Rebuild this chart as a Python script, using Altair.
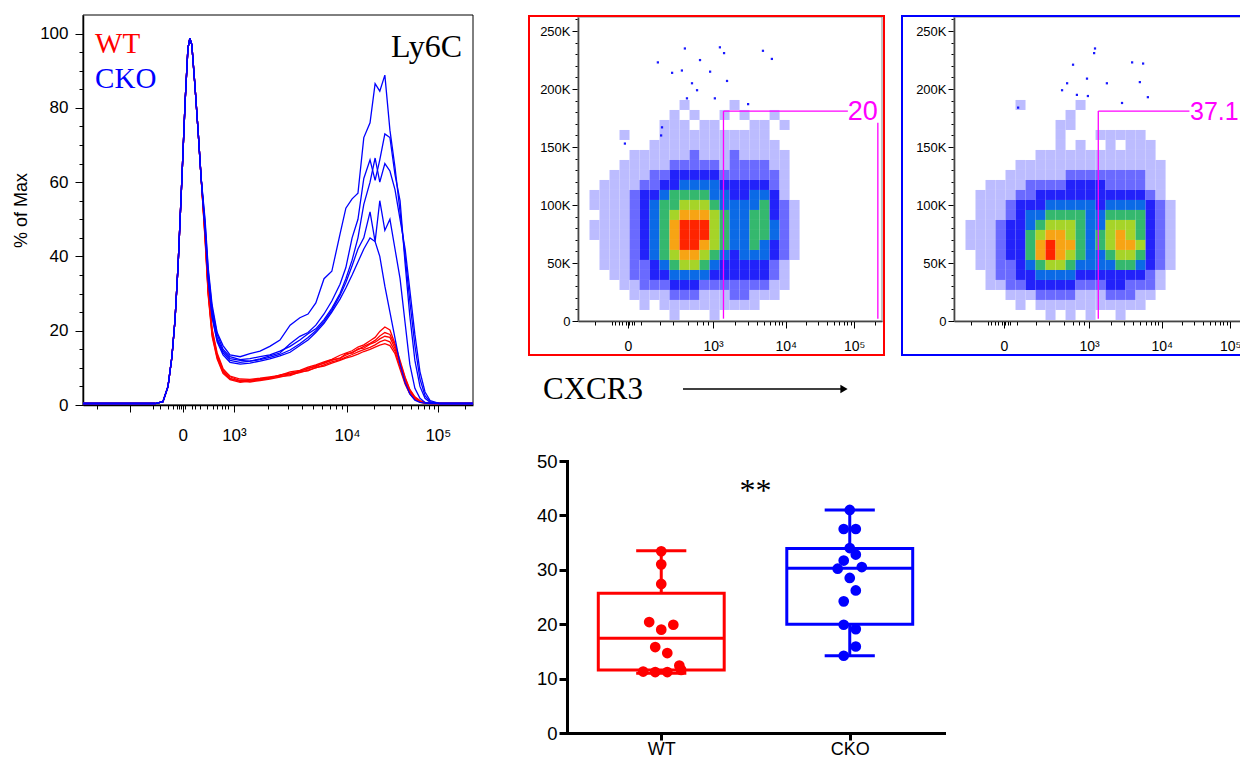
import altair as alt
import pandas as pd
import numpy as np

# canvas kept inside the 1248x770 window (8px page margin on each side)
W, H = 1232, 750
SANS = "Liberation Sans"
SERIF = "Liberation Serif"
RED, BLUE, MAG = "#ff0000", "#0000ff", "#ff00ff"

# ---------------- Histogram panel (Ly6C, display channel 0-1000) ----------------
hist_left_ch = [0, 185, 205, 218, 228, 236, 244, 254, 262, 269, 274, 279, 287, 295, 303]
hist_left_pct = [0.4, 0.4, 0.9, 5, 13, 23, 38, 62, 82, 96, 98.7, 97, 86, 74, 61]
hist_ch = [313, 321, 331, 344, 359, 377, 403, 428, 454, 479, 505, 531, 556, 577, 597,
           618, 638, 659, 674, 690, 705, 720, 736, 749, 761, 774, 787, 800, 813, 826,
           838, 851, 864, 877, 890, 915, 1000]
wt_1 = [46, 31, 20, 13.5, 9.5, 7.8, 7.0, 6.9, 7.2, 7.6, 8.0, 8.9, 9.3, 10.2, 10.8, 11.6, 12.3, 13.4, 14.0, 14.6,
        15.6, 16.2, 17.3, 18.2, 19.8, 21.0, 20.2, 16.5, 12.0, 7.5, 4.2, 2.2, 1.2, 0.7, 0.5, 0.4, 0.4]
wt_2 = [46.5, 31.5, 20.5, 14, 9.8, 7.6, 6.6, 6.5, 6.9, 7.4, 7.9, 8.4, 9.2, 9.7, 10.6, 11.2, 12.0, 12.7, 13.4, 14.2,
        14.9, 15.8, 16.6, 17.4, 18.6, 19.5, 19.0, 16.0, 11.5, 7.2, 4.0, 2.0, 1.0, 0.6, 0.5, 0.4, 0.4]
wt_3 = [45.5, 30.5, 19.5, 13.2, 9.2, 7.2, 6.3, 6.7, 7.0, 7.2, 8.1, 8.6, 9.0, 9.9, 10.3, 11.4, 12.2, 12.5, 13.8, 14.0,
        15.1, 15.3, 16.4, 16.9, 17.8, 18.5, 18.2, 15.2, 11.0, 6.6, 3.6, 1.8, 0.9, 0.6, 0.5, 0.4, 0.4]
wt_4 = [45, 30, 19, 12.8, 8.8, 7.0, 6.5, 6.2, 6.6, 7.0, 7.5, 8.2, 8.7, 9.4, 10.0, 10.8, 11.6, 12.2, 12.9, 13.6,
        14.3, 14.9, 15.5, 16.2, 17.0, 17.5, 17.0, 14.5, 10.2, 6.0, 3.2, 1.6, 0.8, 0.5, 0.4, 0.4, 0.4]
wt_5 = [44.5, 29.5, 18.5, 12.4, 8.5, 6.8, 6.1, 6.4, 6.8, 7.3, 7.7, 7.9, 8.9, 9.2, 10.1, 10.5, 11.3, 12.0, 12.6, 13.1,
        13.7, 14.4, 15.0, 15.6, 16.1, 16.5, 16.0, 13.8, 9.6, 5.6, 3.0, 1.5, 0.8, 0.5, 0.4, 0.4, 0.4]
cko_1 = [50, 37, 27, 19.5, 16, 13.5, 13, 13.8, 14.5, 15.8, 17.5, 21.5, 23.5, 24.5, 27.5, 34, 36, 46, 53, 55.5,
         57, 72, 76, 86.5, 84.5, 88.8, 74, 64, 52, 40, 28, 16, 7, 2.5, 0.9, 0.4, 0.4]
cko_2 = [48, 35, 25, 18, 14.5, 12.5, 12, 11.8, 12.4, 13.2, 14, 16.5, 18.5, 19.5, 21.5, 24.5, 28, 32.5, 37, 45,
         50, 61, 66, 60.5, 66, 73, 72, 62, 55, 38, 24, 12, 5, 1.8, 0.7, 0.4, 0.4]
cko_3 = [49, 36, 26, 19, 15, 13, 12.2, 12.5, 13, 13.5, 14.5, 15.8, 17.5, 19.2, 20.5, 23, 26, 30, 34, 39,
         45, 54, 60, 66.5, 60, 65, 63, 58, 50, 42, 31, 19, 9, 3.5, 1.2, 0.4, 0.4]
cko_4 = [47.5, 34, 24, 17.5, 14, 12, 11.5, 11.8, 12.2, 12.8, 13.6, 14.8, 16.5, 18.2, 20, 22.5, 25.5, 29.5, 33, 37.5,
         42, 45, 52, 44, 55, 47, 50, 42, 34, 22, 11, 4.5, 1.8, 0.7, 0.5, 0.4, 0.4]
cko_5 = [47, 33.5, 23.5, 17, 13.5, 11.5, 11, 11.3, 11.8, 12.4, 13.2, 14.2, 16, 17.5, 19.5, 22, 25, 28.5, 31.5, 35,
         38.5, 42, 45, 44, 40, 32, 25, 18, 11, 6, 3, 1.3, 0.7, 0.5, 0.4, 0.4, 0.4]

hist_major_ch = [121, 256, 387, 677, 910]
hist_major_lbl = ["", "0", "10³", "10⁴", "10⁵"]
hist_low_minor_ch = [36, 179, 197, 218, 231, 241, 246, 251, 262, 279, 287, 300, 318, 333, 344, 356, 364, 372]
hist_decades = [387, 677, 910, 1143]

# ---------------- Dot plots (CXCR3 channel 0-1024 vs SSC) ----------------
dot_major_ch = [168, 455, 700, 930]
dot_major_lbl = ["0", "10³", "10⁴", "10⁵"]
dot_low_minor_ch = [57, 115, 125, 138, 148, 162, 172, 182, 189, 212, 276, 320, 371, 401, 421, 438]
dot_decades = [455, 700, 930, 1159]

# density levels (0 empty .. 8 red), 22 x 22 bins, rows from top (high SSC) to bottom
wt_density = [
    "0000000000100001000000",
    "0000000001010010100100",
    "0000000011101100011010",
    "0000100011111111111000",
    "0000000111111111111100",
    "0000011111121112111110",
    "0000111112222212222110",
    "0001111223333322222210",
    "0011112233444433333210",
    "0111123345555443344310",
    "0111123455666544445321",
    "0011123456777654455321",
    "0111123457888654455421",
    "0111123457888654455421",
    "0011123457887654454321",
    "0011123456776543444321",
    "0011122345665433333210",
    "0001122334444333333210",
    "0000112223332222222110",
    "0000011112221112211100",
    "0000001011111111110000",
    "0000000001000100000000",
]
cko_density = [
    "0000001000001000000000",
    "0000000000010000000000",
    "0000000000110000000000",
    "0000000000100011111000",
    "0000000000101001011100",
    "0000000011111111111100",
    "0000001111111111111110",
    "0000011111122222222110",
    "0001111222233332222110",
    "0011112233333333333210",
    "0011123334444434444321",
    "0011123445555445555321",
    "0111233456665446665321",
    "0111233567765456765321",
    "0111233578775456776321",
    "0011233578765445665321",
    "0011223456654444554321",
    "0001223344443333333210",
    "0001122333332223322210",
    "0000011122221112221100",
    "0000001011111111111000",
    "0000000001010100100000",
]
bin_x0, bin_dx = 5, 33.7          # channel units
bin_y0, bin_dy = 190600, 8623     # SSC units (top edge, height)

wt_out_x = [360, 411, 269, 445, 317, 350, 478, 492, 623, 653, 384, 401, 502, 367, 461, 573, 158, 283, 280]
wt_out_y = [235e3, 225e3, 223e3, 215e3, 214e3, 216e3, 236e3, 231e3, 233e3, 226e3, 205e3, 199e3, 207e3,
            192e3, 192e3, 187e3, 153e3, 167e3, 160e3]
cko_out_x = [475, 472, 401, 600, 637, 364, 448, 381, 515, 626, 414, 451, 566, 216, 653]
cko_out_y = [235e3, 231e3, 221e3, 223e3, 222e3, 199e3, 209e3, 205e3, 205e3, 206e3, 195e3, 194e3, 188e3,
             184e3, 193e3]

wt_gate = {"x": [490, 490, 1010], "x2": [490, 909, 1010], "y": [2000, 181000, 2000], "y2": [181000, 181000, 171000]}
cko_gate = {"x": [486, 486], "x2": [486, 793], "y": [2000, 181000], "y2": [181000, 181000]}
gate_labels = ["20", "37.1"]
gate_label_x = [1010, 795]
gate_label_y = [180000, 180000]
gate_label_size = [27, 25]

# ---------------- Box plot (% CXCR3+) ----------------
groups = ["WT", "CKO"]
group_pos = [1, 2]
box_min = [11.0, 14.2]
box_q1 = [11.6, 20.0]
box_med = [17.4, 30.3]
box_q3 = [25.7, 33.9]
box_max = [33.5, 41.0]
wt_vals = [33.4, 31.0, 27.4, 20.4, 19.9, 19.0, 15.8, 14.7, 12.4, 11.6, 11.3, 11.2, 11.2]
wt_slot = [0, 0, 0, -2, 2, 0, -1, 1, 3, 3.3, -3, -1, 1]
cko_vals = [41.0, 37.5, 37.5, 34.0, 32.8, 31.7, 30.2, 30.5, 28.5, 26.2, 24.2, 19.9, 19.1, 15.9, 14.2]
cko_slot = [0, -1, 1, 0, 1, -1, -2, 2, 0, 1, -1, -1, 1, 1, -1]

# ======================= helpers =======================
def log_minor(decades, hi):
    out = []
    for a, b in zip(decades[:-1], decades[1:]):
        for m in range(2, 10):
            v = a + np.log10(m) * (b - a)
            if v < hi:
                out.append(round(float(v), 1))
    return out


def label_expr(vals, lbls):
    e = "''"
    for v, l in reversed(list(zip(vals, lbls))):
        e = f"datum.value == {v} ? '{l}' : {e}"
    return e


def tick_cond(test, big, small):
    return {"condition": {"test": test, "value": big}, "value": small}


def blank():
    return alt.Chart(pd.DataFrame({"k": [0]}))


NOAX = None

# scales (pixel ranges inside the canvas)
hx = alt.Scale(domain=[0, 1000], range=[75, 465], nice=False, zero=False)
hy = alt.Scale(domain=[0, 105], range=[397, 7], nice=False, zero=False)
d1x = alt.Scale(domain=[0, 1024], range=[570, 874], nice=False, zero=False)
d2x = alt.Scale(domain=[0, 1024], range=[946, 1250], nice=False, zero=False)
dy = alt.Scale(domain=[0, 262144], range=[313, 9], nice=False, zero=False)
bx = alt.Scale(domain=[0.5, 2.5], range=[559, 936], nice=False, zero=False)
by = alt.Scale(domain=[0, 50], range=[725, 453], nice=False, zero=False)
grp_scale = alt.Scale(domain=groups, range=[RED, BLUE])

# ======================= histogram =======================
rows = []
for grp, curves in (("WT", [wt_1, wt_2, wt_3, wt_4, wt_5]), ("CKO", [cko_1, cko_2, cko_3, cko_4, cko_5])):
    for i, c in enumerate(curves):
        assert len(c) == len(hist_ch)
        for x, y in zip(hist_left_ch + hist_ch, hist_left_pct + c):
            rows.append({"grp": grp, "curve": f"{grp}{i}", "ch": x, "pct": y})
hist_df = pd.DataFrame(rows)

hist_minor = hist_low_minor_ch + log_minor(hist_decades, 1000)
hist_xaxis = alt.Axis(
    orient="bottom", offset=397 - H, values=hist_major_ch + hist_minor,
    labelExpr=label_expr(hist_major_ch, hist_major_lbl),
    tickSize=tick_cond(f"indexof({hist_major_ch}, datum.value) >= 0", 7, 4),
    labelFontSize=17, labelPadding=15, labelOverlap=False, labelFlush=False,
    domainWidth=1.5, tickWidth=1, title=None, grid=False)
hist_yaxis = alt.Axis(
    orient="left", offset=-75, values=list(range(0, 101, 5)),
    labelExpr="datum.value % 20 == 0 ? '' + datum.value : ''",
    tickSize=tick_cond("datum.value % 20 == 0", 8, 4),
    labelFontSize=17, labelPadding=7, labelOverlap=False, labelFlush=False,
    domainWidth=1.5, tickWidth=1, grid=False,
    title="% of Max", titleFontSize=18, titleFontWeight="normal", titleX=-62, titleBaseline="middle")

hist_frame = alt.Chart(pd.DataFrame({"x": [0], "x2": [1000], "y": [0], "y2": [105]})).mark_rect(
    fill="transparent", stroke="black", strokeWidth=1).encode(
    x=alt.X("x:Q", scale=hx, axis=hist_xaxis), x2="x2:Q",
    y=alt.Y("y:Q", scale=hy, axis=hist_yaxis), y2="y2:Q")


def hist_layer(grp, color):
    return alt.Chart(hist_df[hist_df.grp == grp]).mark_line(strokeWidth=1.3, color=color).encode(
        x=alt.X("ch:Q", scale=hx, axis=NOAX), y=alt.Y("pct:Q", scale=hy, axis=NOAX), detail="curve:N")


hist_wt = hist_layer("WT", RED)
hist_cko = hist_layer("CKO", BLUE)

legend_df = pd.DataFrame({"t": groups, "ch": [31, 31], "pct": [94.8, 85.3]})
hist_legend = alt.Chart(legend_df).mark_text(font=SERIF, fontSize=29, align="left", baseline="alphabetic").encode(
    x=alt.X("ch:Q", scale=hx, axis=NOAX), y=alt.Y("pct:Q", scale=hy, axis=NOAX), text="t:N",
    color=alt.Color("t:N", scale=grp_scale, legend=None))
hist_marker = alt.Chart(pd.DataFrame({"t": ["Ly6C"], "ch": [972], "pct": [93.7]})).mark_text(
    font=SERIF, fontSize=32, align="right", baseline="alphabetic", color="black").encode(
    x=alt.X("ch:Q", scale=hx, axis=NOAX), y=alt.Y("pct:Q", scale=hy, axis=NOAX), text="t:N")

# ======================= dot plots =======================
dot_minor = dot_low_minor_ch + log_minor(dot_decades, 1024)
lev_colors = ["#bcbcff", "#6a6aff", "#2222fa", "#0b6ae6", "#34b86e", "#a6d428", "#f7a414", "#ff2400"]


def density_df(rows_):
    recs = []
    for r, s in enumerate(rows_):
        for c, ch in enumerate(s):
            lv = int(ch)
            if lv > 0:
                recs.append({"x": bin_x0 + c * bin_dx, "x2": bin_x0 + (c + 1) * bin_dx,
                             "y": bin_y0 - r * bin_dy, "y2": bin_y0 - (r + 1) * bin_dy, "lev": lv})
    return pd.DataFrame(recs)


def dot_panel(xs, x_left, density, out_x, out_y, gate, lbl_i, frame_color, frame_x, frame_x2):
    xaxis = alt.Axis(
        orient="bottom", offset=313 - H, values=dot_major_ch + dot_minor,
        labelExpr=label_expr(dot_major_ch, dot_major_lbl),
        tickSize=tick_cond(f"indexof({dot_major_ch}, datum.value) >= 0", 7, 4),
        labelFontSize=14, labelPadding=11, labelOverlap=False, labelFlush=False,
        domainWidth=1.5, tickWidth=1, title=None, grid=False)
    yaxis = alt.Axis(
        orient="left", offset=-x_left, values=list(range(0, 262144, 10000)),
        labelExpr="datum.value % 50000 == 0 ? (datum.value == 0 ? '0' : (datum.value / 1000) + 'K') : ''",
        tickSize=tick_cond("datum.value % 50000 == 0", 6, 3),
        labelFontSize=13, labelPadding=2, labelOverlap=False, labelFlush=False,
        domainWidth=1.5, tickWidth=1, title=None, grid=False)
    border = alt.Chart(pd.DataFrame({"x": [0], "x2": [1024], "y": [0], "y2": [262144]})).mark_rect(
        fill="transparent", stroke="#8a8a8a", strokeWidth=1).encode(
        x=alt.X("x:Q", scale=xs, axis=xaxis), x2="x2:Q",
        y=alt.Y("y:Q", scale=dy, axis=yaxis), y2="y2:Q")
    cells = alt.Chart(density_df(density)).mark_rect(strokeWidth=0, opacity=1).encode(
        x=alt.X("x:Q", scale=xs, axis=NOAX), x2="x2:Q",
        y=alt.Y("y:Q", scale=dy, axis=NOAX), y2="y2:Q",
        color=alt.Color("lev:O", scale=alt.Scale(domain=list(range(1, 9)), range=lev_colors), legend=None))
    outl = alt.Chart(pd.DataFrame({"x": out_x, "y": out_y})).mark_square(size=5, color=BLUE, opacity=0.9).encode(
        x=alt.X("x:Q", scale=xs, axis=NOAX), y=alt.Y("y:Q", scale=dy, axis=NOAX))
    gate_l = alt.Chart(pd.DataFrame(gate)).mark_rule(color=MAG, strokeWidth=1.3).encode(
        x=alt.X("x:Q", scale=xs, axis=NOAX), x2="x2:Q", y=alt.Y("y:Q", scale=dy, axis=NOAX), y2="y2:Q")
    gtxt = alt.Chart(pd.DataFrame({"t": [gate_labels[lbl_i]], "x": [gate_label_x[lbl_i]], "y": [gate_label_y[lbl_i]]})).mark_text(
        font=SANS, fontSize=gate_label_size[lbl_i], color=MAG, align="right" if lbl_i == 0 else "left",
        baseline="middle").encode(
        x=alt.X("x:Q", scale=xs, axis=NOAX), y=alt.Y("y:Q", scale=dy, axis=NOAX), text="t:N")
    frame = blank().mark_rect(fill="transparent", stroke=frame_color, strokeWidth=2).encode(
        x=alt.value(frame_x), x2=alt.value(frame_x2), y=alt.value(8), y2=alt.value(347))
    return [border, cells, outl, gate_l, gtxt, frame]


dot1 = dot_panel(d1x, 570, wt_density, wt_out_x, wt_out_y, wt_gate, 0, RED, 521, 876)
dot2 = dot_panel(d2x, 946, cko_density, cko_out_x, cko_out_y, cko_gate, 1, BLUE, 894, 1300)

cxcr3 = blank().mark_text(text="CXCR3", font=SERIF, fontSize=31, align="left", baseline="middle", color="black").encode(
    x=alt.value(535), y=alt.value(382))
arrow_line = blank().mark_rule(color="black", strokeWidth=1.5).encode(
    x=alt.value(675), x2=alt.value(834), y=alt.value(381))
arrow_head = blank().mark_point(shape="triangle-right", filled=True, size=70, color="black", opacity=1).encode(
    x=alt.value(836), y=alt.value(381))

# ======================= box plot =======================
BOX_HALF, CAP_HALF, SLOT = 0.334, 0.133, 0.032
stats = pd.DataFrame({"grp": groups, "pos": group_pos, "mn": box_min, "q1": box_q1, "med": box_med,
                      "q3": box_q3, "mx": box_max})
stats["left"] = stats.pos - BOX_HALF
stats["right"] = stats.pos + BOX_HALF
stats["cl"] = stats.pos - CAP_HALF
stats["cr"] = stats.pos + CAP_HALF
pts = pd.DataFrame({"grp": ["WT"] * len(wt_vals) + ["CKO"] * len(cko_vals),
                    "val": wt_vals + cko_vals, "slot": wt_slot + cko_slot})
pts["xp"] = pts.grp.map(dict(zip(groups, group_pos))) + pts.slot * SLOT

box_xaxis = alt.Axis(orient="bottom", offset=725 - H, values=group_pos,
                     labelExpr="datum.value == 1 ? 'WT' : 'CKO'", tickSize=7, tickWidth=3,
                     domainWidth=3, domainCap="square", labelFontSize=18, labelPadding=0,
                     labelFlush=False, title=None, grid=False)
box_yaxis = alt.Axis(orient="left", offset=-559, values=[0, 10, 20, 30, 40, 50], tickSize=8, tickWidth=3,
                     domainWidth=3, domainCap="square", labelFontSize=18.5, labelPadding=2,
                     labelFlush=False, title=None, grid=False)
bcol = alt.Color("grp:N", scale=grp_scale, legend=None)
boxes = alt.Chart(stats).mark_rect(fill="transparent", strokeWidth=3).encode(
    x=alt.X("left:Q", scale=bx, axis=box_xaxis), x2="right:Q",
    y=alt.Y("q1:Q", scale=by, axis=box_yaxis), y2="q3:Q",
    stroke=alt.Stroke("grp:N", scale=grp_scale, legend=None))
medians = alt.Chart(stats).mark_rule(strokeWidth=3).encode(
    x=alt.X("left:Q", scale=bx, axis=NOAX), x2="right:Q", y=alt.Y("med:Q", scale=by, axis=NOAX), color=bcol)
whisk_hi = alt.Chart(stats).mark_rule(strokeWidth=3).encode(
    x=alt.X("pos:Q", scale=bx, axis=NOAX), y=alt.Y("q3:Q", scale=by, axis=NOAX), y2="mx:Q", color=bcol)
whisk_lo = alt.Chart(stats).mark_rule(strokeWidth=3).encode(
    x=alt.X("pos:Q", scale=bx, axis=NOAX), y=alt.Y("mn:Q", scale=by, axis=NOAX), y2="q1:Q", color=bcol)
cap_hi = alt.Chart(stats).mark_rule(strokeWidth=3).encode(
    x=alt.X("cl:Q", scale=bx, axis=NOAX), x2="cr:Q", y=alt.Y("mx:Q", scale=by, axis=NOAX), color=bcol)
cap_lo = alt.Chart(stats).mark_rule(strokeWidth=3).encode(
    x=alt.X("cl:Q", scale=bx, axis=NOAX), x2="cr:Q", y=alt.Y("mn:Q", scale=by, axis=NOAX), color=bcol)
points = alt.Chart(pts).mark_circle(size=115, opacity=1).encode(
    x=alt.X("xp:Q", scale=bx, axis=NOAX), y=alt.Y("val:Q", scale=by, axis=NOAX), color=bcol)
signif = alt.Chart(pd.DataFrame({"t": ["**"], "x": [1.5], "y": [42.7]})).mark_text(
    font=SERIF, fontSize=32, align="center", baseline="alphabetic", color="black").encode(
    x=alt.X("x:Q", scale=bx, axis=NOAX), y=alt.Y("y:Q", scale=by, axis=NOAX), text="t:N")

layers = ([hist_frame, hist_wt, hist_cko, hist_legend, hist_marker] + dot1 + dot2 +
          [cxcr3, arrow_line, arrow_head, boxes, medians, whisk_hi, whisk_lo, cap_hi, cap_lo, points, signif])

chart = alt.layer(*layers).resolve_scale(
    x="independent", y="independent", color="independent", stroke="independent"
).resolve_axis(x="independent", y="independent").properties(
    width=W, height=H, padding=0, autosize=alt.AutoSizeParams(type="none")
).configure_view(stroke="transparent").configure_axis(
    grid=False, labelFont=SANS, titleFont=SANS, labelColor="black", titleColor="black",
    tickColor="black", domainColor="black")

chart.save("out.html", embed_options={"renderer": "svg", "actions": False})
